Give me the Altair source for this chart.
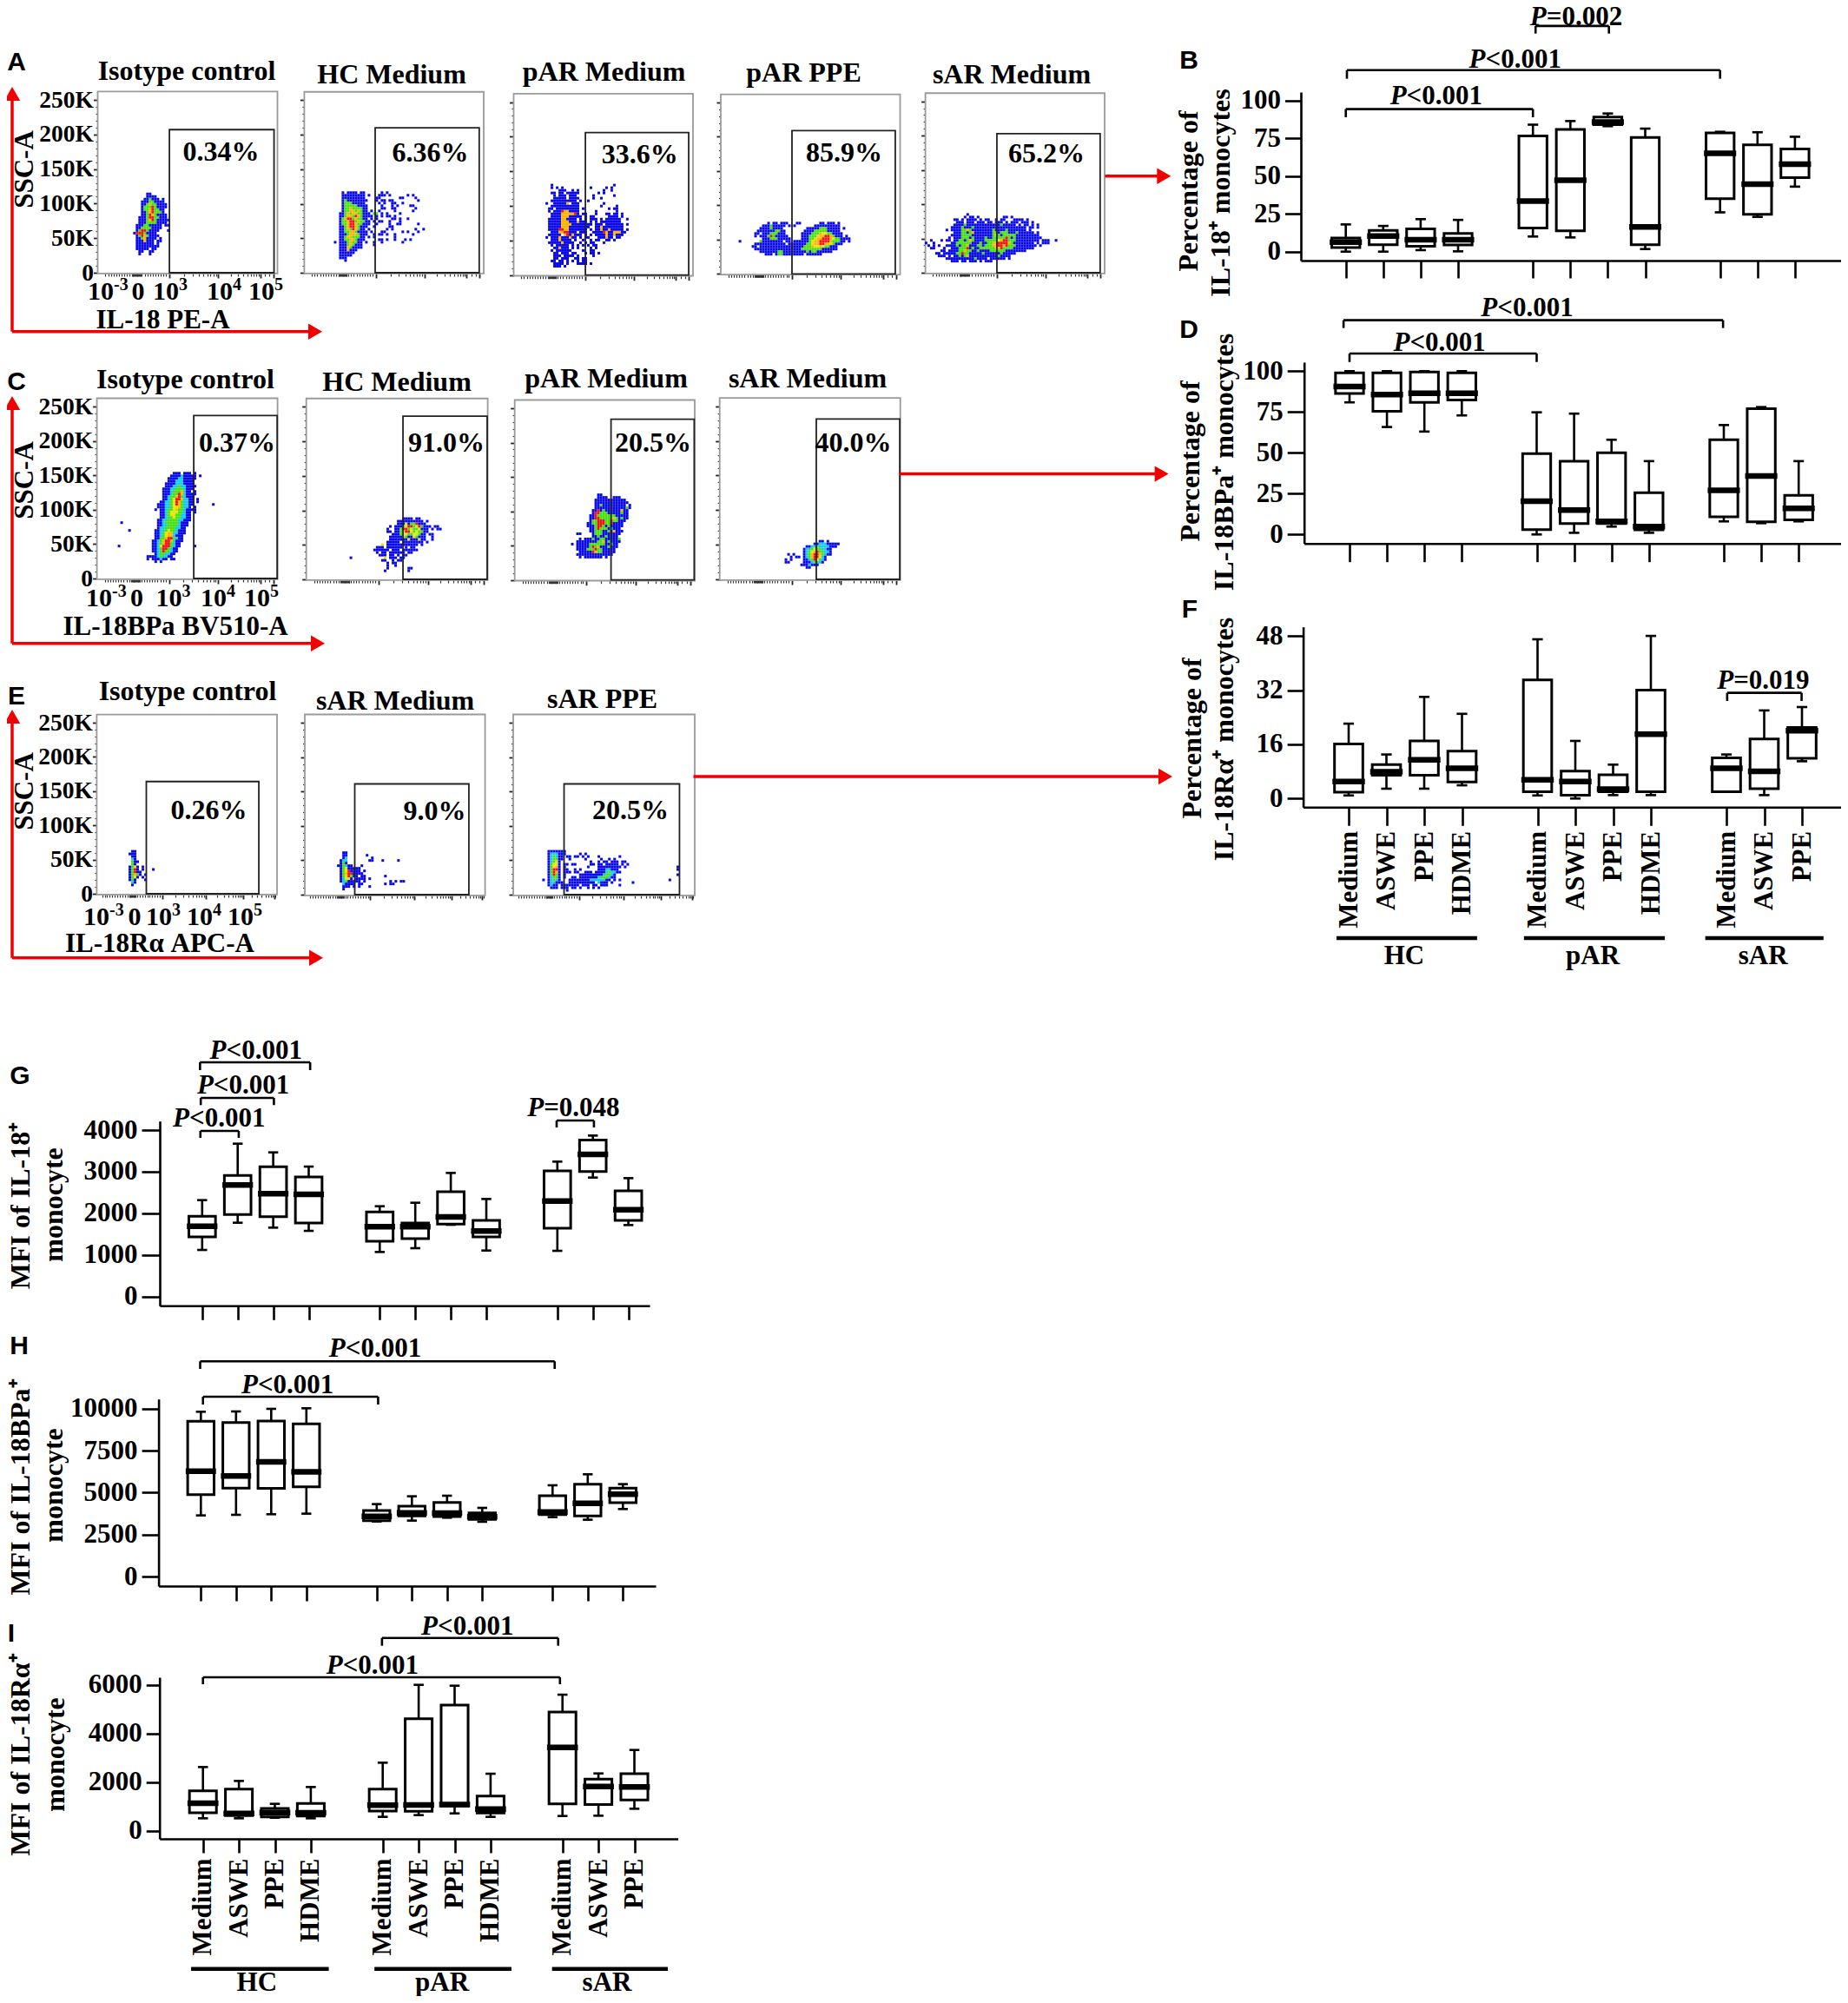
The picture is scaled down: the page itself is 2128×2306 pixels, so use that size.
import altair as alt
import pandas as pd

W, H = 2112, 2290
SERIF = "Liberation Serif"
SANS = "Liberation Sans"
PAGE_X = alt.Scale(domain=[8, 8 + W], range=[0, W])
PAGE_Y = alt.Scale(domain=[8, 8 + H], range=[0, H])

CONDITIONS = ["Medium", "ASWE", "PPE", "HDME", "", "Medium", "ASWE", "PPE", "HDME", "", "Medium", "ASWE", "PPE"]
SLOTS = [0, 1, 2, 3, 5, 6, 7, 8, 10, 11, 12]

# ---------- box plots: low whisker, q1, median, q3, high whisker
B_LO = [0, 0, 1, 0.2, 10, 9.4, 83, 1.7, 26, 23, 43]
B_Q1 = [2.7, 4.6, 3.6, 4.4, 15.7, 13.8, 84, 4.6, 35, 24.7, 49]
B_MD = [6.3, 10.3, 7.9, 7.9, 33.5, 47.3, 85.8, 16.3, 65, 44.6, 57.9]
B_Q3 = [9, 14, 15, 12, 76.6, 80.8, 89, 75.5, 78.5, 70.7, 68]
B_HI = [18, 17, 21.5, 21, 84, 86.4, 91.4, 81.4, 79.3, 79, 76]

D_LO = [80.9, 65.8, 63, 72.9, 0, 1, 4.8, 1, 8, 6.9, 8]
D_Q1 = [86.3, 75.4, 80.9, 82.4, 3, 6.7, 6.7, 2.8, 10.8, 7.8, 8.9]
D_MD = [90.6, 85.6, 86.5, 86.5, 20.4, 14.9, 8, 4.8, 27, 35.8, 16]
D_Q3 = [99, 99, 99.5, 99, 49.5, 44.9, 50, 25.5, 58, 77, 24]
D_HI = [100, 100, 100, 100, 74.8, 74, 58, 44.9, 67, 78, 44.9]

F_LO = [0.9, 2.9, 2.9, 3.9, 0.9, 0, 1, 1, 2, 1, 11]
F_Q1 = [1.9, 6.9, 6.9, 4.9, 2, 1, 2, 2, 2, 2.9, 11.9]
F_MD = [5, 7.9, 11.4, 8.9, 5.5, 5, 2.8, 19, 8.9, 8, 20]
F_Q3 = [16.1, 10, 17, 14, 35, 8.1, 7, 32, 12, 17.6, 21]
F_HI = [22.1, 13, 30, 25, 47, 17, 10, 48, 13, 26, 27]

G_LO = [1120, 1774, 1656, 1579, 1071, 1162, 1725, 1106, 1099, 2859, 1718]
G_Q1 = [1433, 1969, 1920, 1767, 1329, 1391, 1739, 1433, 1642, 3005, 1830]
G_MD = [1690, 2678, 2470, 2456, 1677, 1677, 1913, 1572, 2296, 3416, 2087]
G_Q3 = [1927, 2908, 3117, 2873, 2031, 1767, 2518, 1830, 3019, 3763, 2539]
G_HI = [2317, 3673, 3464, 3123, 2170, 2254, 2970, 2344, 3242, 3868, 2845]

H_LO = [3649, 3683, 3718, 3752, 3287, 3339, 3511, 3270, 3546, 3391, 4028]
H_Q1 = [4888, 5267, 5250, 5353, 3339, 3614, 3580, 3408, 3700, 3614, 4406]
H_MD = [6282, 5990, 6833, 6231, 3597, 3804, 3787, 3563, 3855, 4372, 4905]
H_Q3 = [9243, 9174, 9260, 9088, 3941, 4200, 4423, 3804, 4819, 5508, 5267]
H_HI = [9811, 9828, 9983, 10017, 4320, 4785, 4819, 4096, 5439, 6093, 5508]

I_LO = [512, 512, 536, 512, 571, 643, 714, 571, 607, 619, 905]
I_Q1 = [738, 619, 571, 607, 810, 798, 1012, 726, 1107, 1083, 1262]
I_MD = [1131, 714, 750, 738, 1048, 1060, 1083, 893, 3429, 1821, 1798]
I_Q3 = [1643, 1714, 917, 1119, 1714, 4607, 5167, 1429, 4881, 2119, 2345]
I_HI = [2619, 2048, 1107, 1798, 2798, 6000, 5964, 2345, 5595, 2357, 3321]

# brackets: slot a, slot b, bar value, leg value, label, label slot, label value
B_BR = [(0, 5, 94.3, 88.9, "<0.001", 2.41, 97.5), (0.03, 10, 120.1, 114.4, "<0.001", 4.52, 121.8),
        (5.07, 7.03, 149.3, 144.3, "=0.002", 6.15, 150.1)]
D_BR = [(-0.16, 9.98, 131.2, 126.4, "<0.001", 4.74, 133.5), (0, 5, 110.8, 105.6, "<0.001", 2.4, 112.4)]
F_BR = [(10.02, 11.99, 31.2, 28.8, "=0.019", 10.97, 32.4)]
G_BR = [(-0.05, 1.03, 3980, 3813, "<0.001", 0.47, 4084), (-0.04, 2.02, 4773, 4600, "<0.001", 1.15, 4877),
        (-0.06, 3.04, 5628, 5440, "<0.001", 1.51, 5712), (9.98, 11.03, 4230, 4063, "=0.048", 10.45, 4334)]
H_BR = [(0.06, 5.04, 10704, 10239, "<0.001", 2.46, 10911), (-0.02, 10.06, 12805, 12356, "<0.001", 4.95, 13079)]
I_BR = [(0, 9.93, 6311, 6025, "<0.001", 4.71, 6464), (4.98, 9.88, 7929, 7607, "<0.001", 7.35, 8061)]

F_GROUPS = [("HC", -0.32, 3.4, 1.47), ("pAR", 4.64, 8.37, 6.46), ("sAR", 9.44, 12.57, 10.97)]
I_GROUPS = [("HC", -0.33, 3.5, 1.5), ("pAR", 4.77, 8.58, 6.65), ("sAR", 9.71, 12.93, 11.24)]

BOX_PANELS = [
    dict(v=(B_LO, B_Q1, B_MD, B_Q3, B_HI), br=B_BR, x0=1549.7, step=43.1, xa=1498, xb=2120, y0=289.7, per=1.74,
         top=106, bot=300, ticks=[0, 25, 50, 75, 100], ty=18.5, tx=20),
    dict(v=(D_LO, D_Q1, D_MD, D_Q3, D_HI), br=D_BR, x0=1554, step=43.1, xa=1501.7, xb=2120, y0=615.3, per=1.88,
         top=417, bot=625.7, ticks=[0, 25, 50, 75, 100], ty=19.5, tx=21),
    dict(v=(F_LO, F_Q1, F_MD, F_Q3, F_HI), br=F_BR, x0=1553, step=43.5, xa=1500.6, xb=2120, y0=919.3, per=3.9,
         top=721.7, bot=929.3, ticks=[0, 16, 32, 48], ty=18.5, tx=21, labels=True, groups=F_GROUPS,
         line_y=1080, group_y=1110),
    dict(v=(G_LO, G_Q1, G_MD, G_Q3, G_HI), br=G_BR, x0=232.8, step=40.9, xa=184, xb=748, y0=1492.7, per=0.04792,
         top=1290.7, bot=1503.3, ticks=[0, 1000, 2000, 3000, 4000], ty=21, tx=16),
    dict(v=(H_LO, H_Q1, H_MD, H_Q3, H_HI), br=H_BR, x0=231.3, step=40.5, xa=182.6, xb=755, y0=1815.3, per=0.019367,
         top=1610.7, bot=1826, ticks=[0, 2500, 5000, 7500, 10000], ty=19.5, tx=17),
    dict(v=(I_LO, I_Q1, I_MD, I_Q3, I_HI), br=I_BR, x0=233.7, step=41.4, xa=183.7, xb=780.6, y0=2107.7, per=0.028,
         top=1931, bot=2117, ticks=[0, 2000, 4000, 6000], ty=15.5, tx=16, labels=True, groups=I_GROUPS,
         line_y=2266.7, group_y=2292),
]

# ---------- flow cytometry density maps
# b blue, c cyan, g green, y yellow, o orange, r red
CLOUD_A1 = ["......bb.......", "......bbbb.....", ".....bbgbbb.b..", "....bbbggbbbb..", "....bbgoggbbbb.",
            "....bgggrgbbbb.", "....bggorggbb..", "....bbgorgggb..", "....bbgrogbbbb.", "...bbbgrrggbbb.",
            "...bbbgorgbbbbb", "...bbbggggbbbb.", "..bbbggbbbbb.bb", "..bbggggbbbb...", "..bgrrgbbbb...b",
            ".brrrgbbbb.....", "..bgrogbbbb....", "..bbgobbbb.b...", "..bbbobbb.bb...", "..bbbbbbb.b....",
            "..bbbbbbbbb....", "..bbbbb.bb.....", "...bb..bb......", "...b...b......."]
CLOUD_A2 = ["...b.bbbb.bb......b.b", "...bbbbbbbbb.b...bbb.b......b.b", "...bbbbbbbbb....bb.......bb....b",
            "...bgbbbbbbbb...b.bb.bb.........b", "...bgggbbbbb.....b.b..bb..b......",
            "...bgggggbbbb.....b...b.b....bb", "...bggoggggbb.....bb..bb.......b",
            "...bggoogogbb.b..b.....b......b", "..bbgogooggbbb.gg.b.b....b", "..bbgoogrogbbbb.b.b.bb.b",
            "..bgorrgoggbb.b.b.....bb.b..b", "..bggorrgoggbb.b.bb..b...b", "..bggorroggbbb..b....b..bb......b",
            "..bbgorrogbbb..b.....bb", "..bbgogrogbb.b......b.b........b..b", "..bbggoogbbbb.b...bb......b.b...b",
            "..bbbgooogbbb..b.bb.b..b......b", "..bbgoogggbb.b.b.......b", "..bbggoogbbb.....bb.b..b...b.b",
            "b.bbbgoggbb.b..b..b.......b", "..bbbgogbbb....b", "..bbbogbbbb", "..bbbobbb", "..bbbbbb", "..bbbbb",
            "..bbb", "....b"]
CLOUD_A3 = ["...b.......................b", "...b.b.b..........b.....b.b", "......bbb..b.b.........b..b",
            "...bb.bb.bbbbb.......b.b", "....b.bbb.bbb......b.......b", "....bbbbb.bbbb.....b..b",
            "...bbbbbbbbbb.b..b", ".b..bbbbbo.bbb.........b", "...bbbbbbbbbbb........b.....b",
            "..bb.bbbbbbbbb.b.........b.bb", "..b.bbbroobbbb......b.......b", "...bbbbooooorb.bb...b...bb.bb.b",
            "...bbbbooobbbbb.b.bb.....bbbb.b", "..bbbbboobbbb.b.b.bbb.b.bbbbbb..b", "..bbbbbooobbbobbb.b.b.bbbbbbbb",
            "..bbbbboooobbbbbbbb.bbb.bbbbbbb.b", "..bbbbbooobbbbbbbb..bbobbbbbbbb", "..bbbbrroobbbbbbb.b.bbobbobbbbb.b",
            "...bbboorrbbb.bbb..bbbbrobbooobb", "..bbbbb.orbobbb.b.b.bbbbobbobbb", ".b.bbbobbbobb.b.bb...bbbobb.bb",
            "...bbbobbbb.b..b..b.bb..bb.b", "..bbbbbobbbb..b.b.bb...b", "...b.bbbbb.b.b.b.b.bb",
            "....bbobbb.b.b....b.b", "...b.bbbbbb....b..bb", "....bb.bbb.bb...b.bb.b", "....bbb.bbbb.b.....b",
            "....bb.bbb..bb.bb", "...bb.bb.b.b.b.bb", "....bbbb.b...bbbb.b", "....bbb.b"]
CLOUD_A4 = ["...........b.bb.bbb...bb.......bb.bbb.b", ".........bbbgbbbbb.b.b.......bbbbbbbbbb",
            "........bbbbgbbbb.........bbbbbgggbbbbb.b", ".......bbbbbbbggbb.......bbbbgggggbbbbb",
            "......bb.bbbgggbbb......bbbbgggoyyggbbbb", "......b.bbbgrgbbbbb.....bbbgggyoorrogbbb.b",
            ".........bbbgggbbbbb....bbbggyoorrroyggbbbb", "b.......gbbbbbbbb.bb.bbbbbbgyoorrrrogggbb.b",
            "......bbbbbbbbbbbb.bbbbbbbggyoorrooygbbb", ".....bb.bbbbbbbbbbbbbbbbbgggoyyoyggbbb",
            "......bbbbbbbbbbbbbbbbbbggggggggbbbbbb", "........bbbbbbbggbbbbbbbbbgbggbbbbbb",
            "..........bbb.bggbbbbbbbb.bbbbbb"]
CLOUD_A5 = ["................b", "...............b.bb.b.........bb.b", "...........bb.b.bbbb.b.bb..b.bb...bbbb.b",
            "............bbb.bbb.bbb.bb.bbb.b.bbb.bbb.b", "...........bbbbgbbbbbbbbbbbbbgbbbbb.b.bb.b.b",
            "..........bbbbgbbbgbbbbbbbbbbbbbbbbbbbb.bb.b", "........b.bbbbggogbbbbbbbbgbbbbgbbbbbbb.b",
            "...........bbbggbgobbbbbbbggbgggbbbgbbbbbb.b", "..........bbbbggggbbbbbbbbgogbgggggbbbbbbbbb",
            ".........b.bbbgggbgbbbbgbbgggggrgbgbbbbbbbbbb", "..b...b.bb.bbggbgogbbbbgggggyorrgggbbbbbbbbb.bbb..b",
            "b..b......bbggggggbbbgbbggoorrrrogbbbbbbbb.b.bbb", ".b.b.b..bbbbgbggobbbggbgggoorrorgggbbbbbbbb.b",
            "..bb...b..bbbgggrbgbbggggggoorggggbbbbbbbb", "......bb.bbbbggoggbbgbbbbggggggbbbbbbbb",
            "....bb.bbbbbggrggbbbbbgbbbbbbgbbbbb", ".....bbb.b.bbgbgobbbbbbbbbbbgbbbb",
            "........bbbbbbbbbbbgbbbb.bbbbbb.b", "..........bbb.bb.bbb.b.bbb"]
CLOUD_C1 = ["......................bbb.bbb.b", ".....................bbbbcbbbbb.b", "....................bbbbccbbbbb",
            "....................bbbcccbbbb", "...................bbbbcccbbbb", "...................bbbccgccbbbb",
            "..................bbbccgggcbbb", "..................bbbcgggocbb.b", "..................bbbcggrocbbbb",
            "..................bbcggorgcbbb", "..................bbcgyrroccbb.b", ".................bbccgyrogccbb.b",
            "................bbbccgyrogccbb.......b", "................bbbccgyyogccb.b", "...............b.bbcggyoggcbbbb",
            ".................bbcgyyyggcbb.b", ".................bbcgyyggccbb", ".................bbcggyggccbb",
            "................bbccggggccbbb", "..b.............bbcgggggcbbb", "................bbccggggcbbb",
            "................bccggggccbb", ".....b.........bbccgyggcbbb", "...............bbcgyooccbbb",
            "...............bbcgyoocbbb", "...............bbggorrgcbb", "..............bbcgorrocbbb",
            "..............bbcgorrgcbb", ".b............bbcyrrrgcbb.....b", "..............bbcgrrgcbb",
            "..............bbcgrggcbb", "...............bcggccbb", "............bbbbcgccbb",
            "............b.bbbcbb.bb", "...............b.b"]
CLOUD_C2 = ["....................bbbb.bb", "..................bbbbbbbbbb.b", "..................bbbybggrbbb",
            "...............b.bbbgyrrgyrgbbb.bb", "..............b..bbgrrgyggybbb.b.bb", "..............bb.bbgyrrygyggbb",
            "................bbbgyyggyygbb.bb", "...............bbbbbygbbygbbb..b", "...............bbbbbbbybbbybb..b",
            "..............bbbbb.bbbbbbbb.b", "............y.bbbbbbbbbbbb.b", "..........bbb.bbbbbb.b.bb",
            ".........bbbbbb.bbb.bbbbbb", "..........b.bb.bbbbbb.bb", "...........bbb.bb.b.bb",
            "b............y.bbb.bb", "............bb..b.bb", "..............b.bb", "..............b..b",
            "..............b.......bb", ".............b........b"]
CLOUD_C3 = ["..........bb", "..........bbbb..bbb", ".........bbbbbbbbbbbb", ".........bbbbbbbbbbbbb",
            ".........bbgbbbbbbbbb.b", ".........bbbbbbbbbbbbgb", "........bbrbgbbbbbbobb", "........brrgggbbbbbgbb",
            ".......bbrgggggggbbbbb", ".......bbrrgggggogbgbb", ".......bggrrrggrggbbb", "......bbggrrrggrbbbb",
            "......bbbgrrgbgbbbbb", ".......bbgrgggbgbbb", ".......bbgggbbgbobbb", "..bb....bgggbbbbbbb",
            "........bbgbbgbbbb", "...b.bbbgbbggbbbbbg", "..bbbbbbbbggobgbbbb", "b.bbbbbggggggbbgbb",
            "..bbbbbgrgobbbgbbb", "..bbbbgggrggbbbbb", "...bbbbbroggbbbbb", "..bbbbbbbbbbbbbb", "...b.bbbbbbb.b"]
CLOUD_C4 = [".............bb.b", "...........bbcccbbbbb", "........bbccgccccbbb", ".......bccgyggccbb",
            ".......bcgyorggccb", ".b.b...bcgorrogcbb", "..b.bb.bcgorrycb", "b.b....bbcgrygcb", "bb.....bbbcgccb",
            "......bbbcbbb", "........bb"]
CLOUD_E1 = ["..bb", ".bbb", "..bb", "..cb", "..gbb", "..gb", ".bgyb.b", ".bgrb.b...b", ".bgrbb", ".bgogb.b",
            ".bgyb.b", ".bgb...b", "..cb", "..b"]
CLOUD_E2 = ["..bb", "..bb.......b", "..bc.........b", ".bcc........bb...b.....b", ".bgb", "bbgcbb...b",
            ".bgybbbbb", ".bgyrbbbb.b", ".bgorrbbbb", ".bgyrgbb.bb.......b", ".bcyyb.bbbb.b",
            ".bcgbbbbb.b.........b.b.bb", "..cbbbb.bb........b.bb", "..bbb.b.b...b", "..b"]
CLOUD_E3 = ["..bbbbbbb", "..bcccbbb.....b.b", "..bcgcbb.bb.bb.b.b...b.......b", "..bcggbb..b.....b.....b..b.b",
            "..bcgyb...........b..b.bb.bbb.bb", "..bgyyb.bb.bb.....bb.bb.bbbbb.b.b",
            "..bgyob.b........b...bbbbbbbbb.b...................b", "..bgrrb.bb..b.b......bbbccbbb......................b",
            "..bgrob.bbb.bb..bbb.bbbbcgccbb", "..bgrgb.b.....bbbbbbbbbcggcb.......................b",
            "..bcggb.b..bb.bbbbbbbcgggcbb", "b.bcgcb...bbbbbbbbccccccbb.b.b..................b",
            "..bccbbb..bbbbbbbbbb.cbbb.b.......b", "..bcbb.bbbbbbb.bbb.bb.bbb....b", "...bbb.bbb.bb.b..b.b.b", ".........b"]

DENSITY = ["b", "c", "g", "y", "o", "r"]
DENSITY_COLORS = ["#0808e8", "#14c8ee", "#48e010", "#e6e600", "#ffb400", "#f01414"]

# frame x, frame width, 0K y, 250K y, gate x1, gate x2, gate top K, label, label channel, label K, map, map x, map top K
FLOW_PANELS = [
    (112.5, 207, 314, 115, 399, 981, 207, "0.34%", 686, 175, CLOUD_A1, 190, 114, "A", True),
    (350.4, 206.6, 314, 115.3, 395, 975, 210, "6.36%", 702, 173, CLOUD_A2, 172, 116, "A", False),
    (591.5, 206.5, 316.7, 117.5, 400, 976, 206, "33.6%", 703, 174, CLOUD_A3, 170, 130, "A", False),
    (830, 206.5, 315.3, 118, 397, 973, 209, "85.9%", 688, 176, CLOUD_A4, 107, 74, "A", False),
    (1065.6, 206.4, 314, 116.7, 399, 975, 203, "65.2%", 675, 174, CLOUD_A5, 4, 85, "A", False),
    (111.6, 208, 666, 468, 536, 998, 237, "0.37%", 776, 197, CLOUD_C1, 108, 153, "A", True),
    (352.7, 208.9, 667, 468.3, 533, 997, 236.5, "91.0%", 772, 197.5, CLOUD_C2, 246, 88, "A", False),
    (592.7, 207.3, 667.7, 470, 535, 997, 234, "20.5%", 768, 199.5, CLOUD_C3, 320, 124, "A", False),
    (828.7, 208, 667, 467.7, 535, 997, 231.6, "40.0%", 740, 197, CLOUD_C4, 367, 55, "A", False),
    (111.4, 207.6, 1029, 832, 275, 899, 164, "0.26%", 622, 122, CLOUD_E1, 169, 62, "E", True),
    (351, 207.6, 1030, 832, 277, 910, 161, "9.0%", 720, 121, CLOUD_E2, 186, 61, "E", False),
    (591, 209, 1030, 832, 280, 916, 161, "20.5%", 646, 122, CLOUD_E3, 167, 63, "E", False),
]
YMAJOR = [0, 50, 100, 150, 200, 250]
YMINOR = [10, 20, 30, 40, 60, 70, 80, 90, 110, 120, 130, 140, 160, 170, 180, 190, 210, 220, 230, 240, 260]
XMAJOR = {"A": [399, 670, 905, 976], "E": [363, 607, 814, 985]}
XMINOR = {"A": [43, 58, 73, 88, 103, 118, 133, 148, 163, 178, 190, 194, 198, 202, 206, 210, 214, 218, 222, 226, 230,
                234, 237, 246, 261, 276, 291, 306, 321, 336, 351, 366, 380, 480, 528, 562, 588, 610, 628, 644, 658,
                741, 782, 811, 834, 853, 869, 883, 895, 930, 955],
          "E": [30, 44, 58, 72, 86, 100, 114, 128, 142, 156, 170, 180, 184, 188, 192, 196, 200, 204, 208, 212, 216,
                224, 238, 252, 266, 280, 294, 308, 322, 336, 350, 436, 480, 510, 535, 552, 568, 582, 595,
                670, 705, 732, 752, 768, 782, 794, 804, 860, 890, 915, 935, 950, 965, 975, 992]}

# free text: string, centre x, baseline y
TITLES = [("Isotype control", 215, 91.7), ("HC Medium", 451, 96), ("pAR Medium", 695.6, 93), ("pAR PPE", 925.5, 94),
          ("sAR Medium", 1165, 95.7), ("Isotype control", 213.4, 447), ("HC Medium", 457, 450),
          ("pAR Medium", 698, 446), ("sAR Medium", 930, 446), ("Isotype control", 216, 806),
          ("sAR Medium", 455, 816.7), ("sAR PPE", 693.5, 815)]
AXIS_NAMES = [("IL-18 PE-A", 187.5, 378), ("IL-18BPa BV510-A", 202, 730.7), ("IL-18Rα APC-A", 184, 1096)]
DECADE_POWERS = ["-3", "", "3", "4", "5"]
DECADE_ROWS = [([124, 159, 196, 258, 306], 345), ([122, 157.6, 199.6, 251, 301], 698), ([119, 155, 188, 235, 282], 1065)]
LETTERS = [("A", 19, 81), ("B", 1369, 79), ("C", 19, 449), ("D", 1369, 389), ("E", 19, 811), ("F", 1370, 711),
           ("G", 23, 1248), ("H", 22, 1559), ("I", 13, 1890)]
# rotated text: string, x, centre y
SSC = [("SSC-A", 29, 195), ("SSC-A", 29, 553), ("SSC-A", 29, 911)]
ROTATED = [("Percentage of", 1368.6, 220), ("IL-18⁺ monocytes", 1405.6, 222),
           ("Percentage of", 1371, 531), ("IL-18BPa⁺ monocytes", 1410, 532),
           ("Percentage of", 1373, 850), ("IL-18Rα⁺ monocytes", 1410, 851),
           ("MFI of IL-18⁺", 24, 1388), ("monocyte", 62, 1387),
           ("MFI of IL-18BPa⁺", 24, 1712), ("monocyte", 62, 1710),
           ("MFI of IL-18Rα⁺", 24, 2020), ("monocyte", 64, 2020)]
# arrows: start x/y, tip x/y
ARROWS_UP = [(14, 381.7, 100), (14, 740.7, 456), (14, 1102.7, 817)]
ARROWS_RIGHT = [(14, 371, 381.7), (14, 374, 740.7), (14, 372, 1102.7),
                (1272.4, 1348.3, 202.7), (1035, 1345.6, 545.6), (798.5, 1350, 894)]

layers = []


def num(field, scale, axis=None):
    return alt.X(field, type="quantitative", scale=scale, axis=axis)


def numy(field, scale, axis=None):
    return alt.Y(field, type="quantitative", scale=scale, axis=axis)


def hrule(df, xs, ys, a, b, yf, width, color="black"):
    return alt.Chart(df).mark_rule(strokeWidth=width, color=color).encode(
        x=num(a, xs), x2=alt.X2(b), y=numy(yf, ys))


def vrule(df, xs, ys, xf, a, b, width, color="black"):
    return alt.Chart(df).mark_rule(strokeWidth=width, color=color).encode(
        x=num(xf, xs), y=numy(a, ys), y2=alt.Y2(b))


def box_panel(p):
    xa, xb, x0, step = p["xa"], p["xb"], p["x0"], p["step"]
    top, bot, y0, per = p["top"], p["bot"], p["y0"], p["per"]
    xs = alt.Scale(domain=[(xa - x0) / step, (xb - x0) / step], range=[xa - 8, xb - 8], nice=False, zero=False)
    ys = alt.Scale(domain=[(y0 - bot) / per, (y0 - top) / per], range=[bot - 8, top - 8], nice=False, zero=False)
    lo, q1, md, q3, hi = p["v"]
    df = pd.DataFrame({"slot": SLOTS, "lo": lo, "q1": q1, "md": md, "q3": q3, "hi": hi})
    df["bl"], df["br"] = df.slot - 0.375, df.slot + 0.375
    df["cl"], df["cr"] = df.slot - 0.14, df.slot + 0.14
    df["ml"], df["mr"] = df.slot - 0.43, df.slot + 0.43
    has_labels = p.get("labels", False)
    xaxis = alt.Axis(orient="bottom", offset=bot - 8 - H, values=SLOTS, title=None, grid=False, tickSize=p["tx"],
                     tickWidth=2.6, tickColor="black", domainColor="black", domainWidth=2.6, labels=has_labels,
                     labelExpr="[" + ",".join(f"'{c}'" for c in CONDITIONS) + "][datum.value]",
                     labelAngle=270, labelAlign="right", labelBaseline="middle", labelPadding=6, labelOverlap=False,
                     labelFont=SERIF, labelFontSize=31, labelFontWeight="bold", labelColor="black")
    yaxis = alt.Axis(orient="left", offset=-(xa - 8), values=p["ticks"], title=None, grid=False, tickSize=p["ty"],
                     tickWidth=2.6, tickColor="black", domainColor="black", domainWidth=2.6, format="d",
                     labelFont=SERIF, labelFontSize=31, labelFontWeight="bold", labelColor="black", labelPadding=5,
                     labelOverlap=False)
    layers.append(alt.Chart(df).mark_rule(strokeWidth=2.6, color="black").encode(
        x=num("slot", xs, xaxis), y=numy("lo", ys, yaxis), y2=alt.Y2("hi")))
    layers.append(hrule(df, xs, ys, "cl", "cr", "lo", 2.6))
    layers.append(hrule(df, xs, ys, "cl", "cr", "hi", 2.6))
    layers.append(alt.Chart(df).mark_rect(fill="white", stroke="black", strokeWidth=3).encode(
        x=num("bl", xs), x2=alt.X2("br"), y=numy("q1", ys), y2=alt.Y2("q3")))
    layers.append(hrule(df, xs, ys, "ml", "mr", "md", 6.5))

    br = pd.DataFrame(p["br"], columns=["a", "b", "bar", "leg", "t", "tx", "ty"])
    br["p"] = "P"
    layers.append(hrule(br, xs, ys, "a", "b", "bar", 2.6))
    layers.append(vrule(br, xs, ys, "a", "bar", "leg", 2.6))
    layers.append(vrule(br, xs, ys, "b", "bar", "leg", 2.6))
    for field, align, style in (("p", "right", "italic"), ("t", "left", "normal")):
        layers.append(alt.Chart(br).mark_text(dx=-34, align=align, baseline="alphabetic", font=SERIF, fontSize=31,
                                              fontWeight="bold", fontStyle=style, color="black").encode(
            x=num("tx", xs), y=numy("ty", ys), text=alt.Text(field, type="nominal")))
    if "groups" in p:
        g = pd.DataFrame(p["groups"], columns=["name", "a", "b", "c"])
        layers.append(alt.Chart(g).mark_rule(strokeWidth=4.6, color="black").encode(
            x=num("a", xs), x2=alt.X2("b"), y=alt.value(p["line_y"] - 8)))
        layers.append(alt.Chart(g).mark_text(baseline="alphabetic", font=SERIF, fontSize=31, fontWeight="bold",
                                             color="black").encode(
            x=num("c", xs), y=alt.value(p["group_y"] - 8), text="name:N"))


def flow_panel(f):
    fx, fw, y0, y250, g1, g2, gtop, label, lx, ly, cloud, cx, ctop, ticks, first = f
    xs = alt.Scale(domain=[0, 1000], range=[fx - 8, fx + fw - 8], nice=False, zero=False)
    ys = alt.Scale(domain=[0, 250], range=[y0 - 8, y250 - 8], nice=False, zero=False)
    base = y0 + 1 - 8 - H
    left = -(fx - 8)
    ymajor = alt.Axis(orient="left", offset=left, values=YMAJOR, title=None, grid=False, domain=False, tickSize=5,
                      tickWidth=1.8, tickColor="#222222", labels=first, labelPadding=0, labelFont=SERIF,
                      labelFontSize=27.5, labelFontWeight="bold", labelColor="black", labelOverlap=False,
                      labelExpr="datum.value == 0 ? '0' : datum.value + 'K'")
    xmajor = alt.Axis(orient="bottom", offset=base, values=XMAJOR[ticks], title=None, grid=False, domain=False,
                      tickSize=5, tickWidth=1.8, tickColor="#222222", labels=False)
    yminor = alt.Axis(orient="left", offset=left, values=YMINOR, title=None, grid=False, domain=False, tickSize=2.5,
                      tickWidth=1.2, tickColor="#333333", labels=False)
    xminor = alt.Axis(orient="bottom", offset=base, values=XMINOR[ticks], title=None, grid=False, domain=False,
                      tickSize=3, tickWidth=1.2, tickColor="#333333", labels=False)
    frame = pd.DataFrame({"a": [0], "b": [1000], "lo": [-1], "hi": [262]})
    layers.append(alt.Chart(frame).mark_rect(fill="white", stroke="#9a9a9a", strokeWidth=1.8).encode(
        x=num("a", xs, xmajor), x2=alt.X2("b"), y=numy("lo", ys, ymajor), y2=alt.Y2("hi")))
    cells = [{"x": cx + c * 14.5, "y": ctop - r * 3.78, "d": ch}
             for r, row in enumerate(cloud) for c, ch in enumerate(row) if ch != "."]
    layers.append(alt.Chart(pd.DataFrame(cells)).mark_square(size=9, opacity=1, strokeWidth=0).encode(
        x=num("x", xs, xminor), y=numy("y", ys, yminor),
        color=alt.Color("d:N", scale=alt.Scale(domain=DENSITY, range=DENSITY_COLORS), legend=None)))
    gate = pd.DataFrame({"a": [g1], "b": [g2], "lo": [0], "hi": [gtop], "lx": [lx], "ly": [ly], "t": [label]})
    layers.append(alt.Chart(gate).mark_rect(fill="transparent", stroke="#222222", strokeWidth=1.8).encode(
        x=num("a", xs), x2=alt.X2("b"), y=numy("lo", ys), y2=alt.Y2("hi")))
    layers.append(alt.Chart(gate).mark_text(baseline="middle", font=SERIF, fontSize=32, fontWeight="bold",
                                            color="black").encode(
        x=num("lx", xs), y=numy("ly", ys), text="t:N"))


for fp in FLOW_PANELS:
    flow_panel(fp)
for bp in BOX_PANELS:
    box_panel(bp)


def free_text(rows, size, font=SERIF, **kw):
    df = rows if isinstance(rows, pd.DataFrame) else pd.DataFrame(rows, columns=["t", "x", "y"])
    layers.append(alt.Chart(df).mark_text(font=font, fontSize=size, fontWeight="bold", color="black", **kw).encode(
        x=num("x", PAGE_X), y=numy("y", PAGE_Y), text="t:N"))


free_text(TITLES, 32, baseline="alphabetic")
free_text(AXIS_NAMES, 31, baseline="alphabetic")
free_text(LETTERS, 30, font=SANS, baseline="alphabetic")

# decade labels: base, then raised power written as real text next to it
base_rows, power_rows = [], []
for xs_, y in DECADE_ROWS:
    for power, x in zip(DECADE_POWERS, xs_):
        if not power:
            base_rows.append(("0", x, y))
            continue
        shift = 7 if power == "-3" else 10
        base_rows.append(("10", x + shift - 15, y))
        power_rows.append((power, x + shift, y - 11))
free_text(base_rows, 30, baseline="alphabetic")
free_text(power_rows, 20, baseline="alphabetic", align="left")
free_text(SSC, 31, angle=270, baseline="middle", align="center")
free_text(ROTATED, 32, angle=270, baseline="middle", align="center")

# red arrows
up = pd.DataFrame(ARROWS_UP, columns=["x", "y0", "tip"])
up["head"] = up.tip + 8
right = pd.DataFrame(ARROWS_RIGHT, columns=["x0", "tip", "y"])
right["head"] = right.tip - 8
layers.append(vrule(up, PAGE_X, PAGE_Y, "x", "y0", "head", 3.5, "#f00000"))
layers.append(hrule(right, PAGE_X, PAGE_Y, "x0", "head", "y", 3.5, "#f00000"))
layers.append(alt.Chart(up).mark_point(shape="triangle-up", size=340, filled=True, opacity=1, color="#f00000").encode(
    x=num("x", PAGE_X), y=numy("head", PAGE_Y)))
layers.append(alt.Chart(right).mark_point(shape="triangle-right", size=340, filled=True, opacity=1,
                                          color="#f00000").encode(
    x=num("head", PAGE_X), y=numy("y", PAGE_Y)))

chart = alt.layer(*layers).resolve_scale(x="independent", y="independent").properties(
    width=W, height=H, padding=0, autosize=alt.AutoSizeParams(type="none")
).configure_view(stroke=None)

chart.save("out.html", embed_options={"renderer": "svg", "actions": False})
